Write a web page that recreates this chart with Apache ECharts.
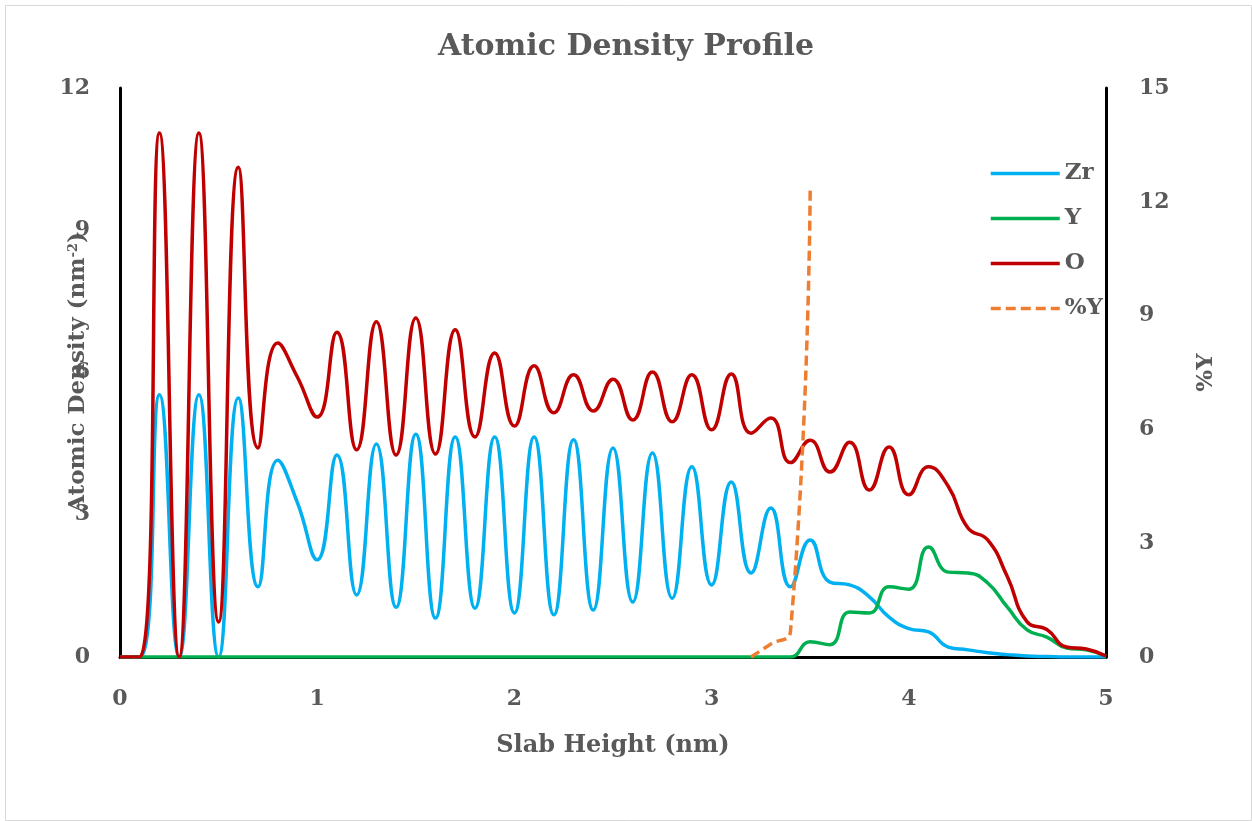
<!DOCTYPE html>
<html>
<head>
<meta charset="utf-8">
<script src="https://cdn.jsdelivr.net/npm/echarts@6/dist/echarts.min.js"></script>
<style>
html,body{margin:0;padding:0;background:#fff;}
#chart{width:1252px;height:821px;}
</style>
</head>
<body>
<div id="chart"></div>
<script>
// Slab height positions (nm)
var heights = [0.0,0.1,0.2,0.3,0.4,0.5,0.6,0.7,0.8,0.9,
               1.0,1.1,1.2,1.3,1.4,1.5,1.6,1.7,1.8,1.9,
               2.0,2.1,2.2,2.3,2.4,2.5,2.6,2.7,2.8,2.9,
               3.0,3.1,3.2,3.3,3.4,3.5,3.6,3.7,3.8,3.9,
               4.0,4.1,4.2,4.3,4.4,4.5,4.6,4.7,4.8,4.9,5.0];

// Atomic density (nm^-2)
var zr = [0,0,5.53,0,5.53,0,5.46,1.48,4.15,3.25,
          2.05,4.26,1.31,4.49,1.05,4.70,0.82,4.64,1.03,4.64,
          0.93,4.64,0.89,4.58,0.99,4.41,1.16,4.30,1.24,4.01,
          1.52,3.69,1.77,3.14,1.48,2.47,1.58,1.52,1.27,0.84,
          0.60,0.53,0.21,0.15,0.09,0.05,0.02,0.01,0,0,0];

var yy = [0,0,0,0,0,0,0,0,0,0,
          0,0,0,0,0,0,0,0,0,0,
          0,0,0,0,0,0,0,0,0,0,
          0,0,0,0,0,0.32,0.26,0.95,0.93,1.48,
          1.43,2.32,1.79,1.77,1.56,1.05,0.57,0.42,0.19,0.15,0.02];

var ox = [0,0,11.05,0,11.05,0.74,10.33,4.41,6.62,5.90,
          5.06,6.85,4.37,7.07,4.26,7.15,4.28,6.90,4.64,6.41,
          4.87,6.14,5.15,5.95,5.19,5.86,5.00,6.01,4.96,5.95,
          4.79,5.97,4.72,5.04,4.10,4.57,3.90,4.53,3.52,4.43,
          3.42,4.01,3.60,2.72,2.47,1.69,0.74,0.58,0.21,0.17,0.02];

// %Y (right axis)
var pctY = [null,null,null,null,null,null,null,null,null,null,
            null,null,null,null,null,null,null,null,null,null,
            null,null,null,null,null,null,null,null,null,null,
            null,null,0,0.34,0.68,12.4,null,null,null,null,
            null,null,null,null,null,null,null,null,null,null,null];

var xTicks = [0,1,2,3,4,5];
var leftTicks = [0,3,6,9,12];
var rightTicks = [0,3,6,9,12,15];

function pairs(arr){
  var out = [];
  for (var i = 0; i < heights.length; i++) out.push([heights[i], arr[i]]);
  return out;
}

var FONT = 'DejaVu Serif';
var GRAY = '#595959';

var chart = echarts.init(document.getElementById('chart'));
chart.setOption({
  animation: false,
  backgroundColor: '#ffffff',
  graphic: [{
    type: 'rect', left: 3, top: 3,
    shape: {width: 1246, height: 815},
    style: {fill: 'none', stroke: '#d9d9d9', lineWidth: 1},
    silent: true, z: -10
  }],
  title: {
    text: 'Atomic Density Profile',
    left: 'center', top: 32, padding: 0,
    textStyle: {fontFamily: FONT, fontWeight: 'bold', fontSize: 30, color: GRAY}
  },
  legend: {
    orient: 'vertical', left: 984, top: 157,
    itemWidth: 69, itemHeight: 24, itemGap: 22,
    itemStyle: {opacity: 0},
    lineStyle: {width: 3.5},
    textStyle: {fontFamily: FONT, fontWeight: 'bold', fontSize: 23, color: GRAY},
    data: ['Zr', 'Y', 'O', '%Y']
  },
  grid: {left: 120, right: 146, top: 88, bottom: 164},
  xAxis: {
    type: 'value', min: xTicks[0], max: xTicks[xTicks.length-1], interval: 1,
    name: 'Slab Height (nm)', nameLocation: 'middle', nameGap: 77, nameMoveOverlap: false,
    nameTextStyle: {fontFamily: FONT, fontWeight: 'bold', fontSize: 24, color: GRAY},
    axisLine: {lineStyle: {color: '#000', width: 3}},
    axisTick: {show: false},
    splitLine: {show: false},
    axisLabel: {margin: 31, fontFamily: FONT, fontWeight: 'bold', fontSize: 22, color: GRAY}
  },
  yAxis: [{
    type: 'value', min: leftTicks[0], max: leftTicks[leftTicks.length-1], interval: 3,
    name: 'Atomic Density (nm{sup|-2})', nameLocation: 'middle', nameGap: 30, nameRotate: 90,
    nameMoveOverlap: false,
    nameTextStyle: {fontFamily: FONT, fontWeight: 'bold', fontSize: 23, color: GRAY,
      rich: {sup: {fontFamily: FONT, fontWeight: 'bold', fontSize: 13, color: GRAY, verticalAlign: 'top', padding: [0,0,10,0]}}},
    axisLine: {show: true, lineStyle: {color: '#000', width: 3}},
    axisTick: {show: false},
    splitLine: {show: false},
    axisLabel: {margin: 30, fontFamily: FONT, fontWeight: 'bold', fontSize: 22, color: GRAY}
  }, {
    type: 'value', position: 'right', min: rightTicks[0], max: rightTicks[rightTicks.length-1], interval: 3,
    name: '%Y', nameLocation: 'middle', nameGap: 89, nameRotate: 90, nameMoveOverlap: false,
    nameTextStyle: {fontFamily: FONT, fontWeight: 'bold', fontSize: 23, color: GRAY},
    axisLine: {show: true, lineStyle: {color: '#000', width: 3}},
    axisTick: {show: false},
    splitLine: {show: false},
    axisLabel: {margin: 33, fontFamily: FONT, fontWeight: 'bold', fontSize: 22, color: GRAY}
  }],
  series: [{
    name: 'Zr', type: 'line', yAxisIndex: 0, data: pairs(zr),
    smooth: true, symbol: 'none', clip: true,
    lineStyle: {color: '#00B0F0', width: 3.5}, itemStyle: {color: '#00B0F0'}
  }, {
    name: 'Y', type: 'line', yAxisIndex: 0, data: pairs(yy),
    smooth: true, symbol: 'none', clip: true,
    lineStyle: {color: '#00B050', width: 3.5}, itemStyle: {color: '#00B050'}
  }, {
    name: 'O', type: 'line', yAxisIndex: 0, data: pairs(ox),
    smooth: true, symbol: 'none', clip: true,
    lineStyle: {color: '#C00000', width: 3.5}, itemStyle: {color: '#C00000'}
  }, {
    name: '%Y', type: 'line', yAxisIndex: 1, data: pairs(pctY),
    smooth: true, symbol: 'none', clip: true, connectNulls: false,
    lineStyle: {color: '#ED7D31', width: 3.5, type: [10, 5]}, itemStyle: {color: '#ED7D31'}
  }]
});
</script>
</body>
</html>
